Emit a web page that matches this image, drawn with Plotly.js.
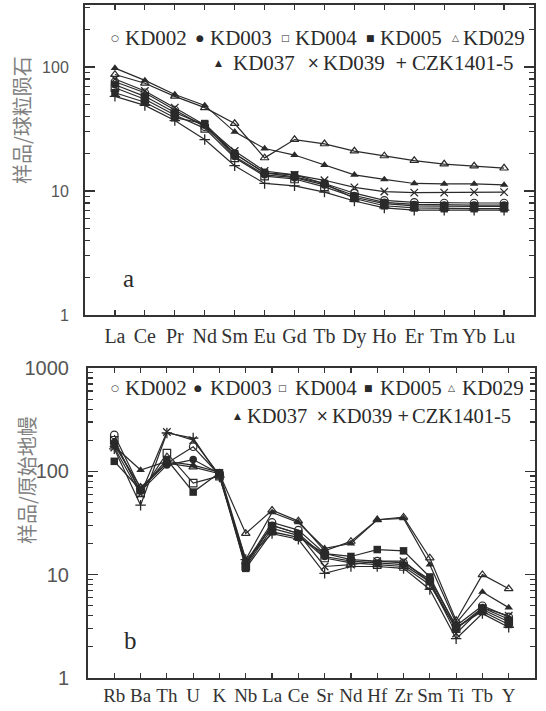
<!DOCTYPE html>
<html><head><meta charset="utf-8">
<script src="https://cdn.plot.ly/plotly-3.0.1.min.js"></script>
<style>html,body{margin:0;padding:0;background:#fff}</style>
</head><body><div id="chart" style="width:546px;height:711px"></div>
<script>
// ---------- DATA ----------
const reeElements = ['La','Ce','Pr','Nd','Sm','Eu','Gd','Tb','Dy','Ho','Er','Tm','Yb','Lu'];
const traceElements = ['Rb','Ba','Th','U','K','Nb','La','Ce','Sr','Nd','Hf','Zr','Sm','Ti','Tb','Y'];
const sampleNames = ['KD002','KD003','KD004','KD005','KD029','KD037','KD039','CZK1401-5'];

// chondrite-normalized REE
const reeKD002 = [76, 62, 45, 33, 20, 14, 13, 11.5, 9.6, 8.4, 8.1, 8.0, 8.0, 8.0];
const reeKD003 = [72, 58, 43, 34, 19, 13.5, 12.8, 11.2, 9.2, 8.1, 7.8, 7.7, 7.7, 7.7];
const reeKD004 = [68, 55, 41, 32, 18.5, 13.2, 12.5, 10.8, 8.9, 7.9, 7.6, 7.5, 7.5, 7.5];
const reeKD005 = [62, 52, 39, 35, 20, 14, 13.5, 11.5, 8.7, 7.6, 7.3, 7.2, 7.2, 7.2];
const reeKD029 = [87, 74, 58, 47, 35, 18.5, 26, 24, 21, 19.2, 17.6, 16.5, 15.9, 15.3];
const reeKD037 = [98, 78, 60, 49, 30, 22, 19.5, 16.2, 13.5, 12.4, 11.5, 11.4, 11.4, 11.2];
const reeKD039 = [80, 64, 47, 34, 21, 14.5, 13.5, 12.2, 10.7, 9.9, 9.7, 9.7, 9.8, 9.8];
const reeCZK = [58, 49, 37, 26, 16, 11.5, 11, 9.8, 8.3, 7.3, 7.0, 7.0, 7.0, 7.0];

// primitive-mantle-normalized trace elements
const trKD002 = [225, 68, 120, 173, 92, 13, 32, 27, 16, 14, 13.5, 13, 9, 3.2, 5.0, 3.9];
const trKD003 = [190, 64, 115, 130, 95, 12.5, 30, 25, 15, 13.5, 13, 12.5, 8.5, 3.0, 4.8, 3.7];
const trKD004 = [200, 62, 150, 77, 90, 12, 28, 24, 14.5, 13, 12.5, 12, 8.0, 3.0, 4.6, 3.5];
const trKD005 = [125, 66, 130, 63, 97, 11.5, 26, 23, 16, 15, 17.5, 17, 9.5, 3.1, 4.4, 3.3];
const trKD029 = [180, 70, 120, 110, 95, 25, 42, 33, 17, 21, 34, 36, 14.5, 3.6, 10, 7.3];
const trKD037 = [175, 103, 125, 115, 98, 14, 40, 32, 18, 20, 34, 35, 12.5, 3.4, 6.8, 4.8];
const trKD039 = [170, 60, 240, 200, 92, 13, 30, 25, 12, 12.5, 13.5, 13.5, 8.5, 2.7, 4.8, 4.0];
const trCZK = [165, 47, 235, 210, 88, 14, 25, 22, 10.3, 12, 12, 11.5, 7.2, 2.4, 4.2, 3.1];

const yTickVals = [1, 10, 100, 1000];
const yTickText = ['1', '10', '100', '1000'];

// ---------- STYLE ----------
const W = 546, H = 711;
const symbols = ['circle-open','circle','square-open','square','triangle-up-open','triangle-up','x-thin-open','cross-thin-open'];
const legendGlyphs = ['\u25CB','\u25CF','\u25A1','\u25A0','\u25B3','\u25B2','\u00D7','+'];
const glyphSizes = [9, 9, 9, 9, 9, 9, 15, 15];
const reeSets = [reeKD002, reeKD003, reeKD004, reeKD005, reeKD029, reeKD037, reeKD039, reeCZK];
const trSets = [trKD002, trKD003, trKD004, trKD005, trKD029, trKD037, trKD039, trCZK];
const ink = '#2a2a2a';
const serif = 'Liberation Serif, Times New Roman, serif';

function mk(i, x, y, xa, ya) {
  const thin = symbols[i].indexOf('thin') >= 0;
  const open = symbols[i].indexOf('open') >= 0;
  return {
    type: 'scatter', mode: 'lines+markers', name: sampleNames[i], showlegend: false,
    x: x, y: y, xaxis: xa, yaxis: ya,
    line: {color: ink, width: 1.2},
    marker: {symbol: symbols[i], size: 7.5, color: ink,
             line: {color: ink, width: thin ? 1.3 : (open ? 1.2 : 0)}}
  };
}
const traces = [];
for (let i = 0; i < sampleNames.length; i++) traces.push(mk(i, reeElements, reeSets[i], 'x', 'y'));
for (let i = 0; i < sampleNames.length; i++) traces.push(mk(i, traceElements, trSets[i], 'x2', 'y2'));

const px = v => v / W, py = v => 1 - v / H;

const ann = [];
function legendRows(rows) {
  rows.forEach(r => {
    r.items.forEach(it => {
      const i = it[0];
      ann.push({xref:'paper', yref:'paper', x: px(it[1]), y: py(r.y), xanchor:'center', yanchor:'middle',
        text: legendGlyphs[i], showarrow:false,
        font:{family:'DejaVu Sans', size: glyphSizes[i], color: ink}});
      ann.push({xref:'paper', yref:'paper', x: px(it[2]), y: py(r.y), xanchor:'left', yanchor:'middle',
        text: sampleNames[i], showarrow:false,
        font:{family: serif, size: r.fs || 21, color: ink}});
    });
  });
}
legendRows([
  {y: 38, items: [[0,115,123],[1,200,208],[2,285,293],[3,370,378],[4,455,461]]},
  {y: 63, items: [[5,218,231],[6,313,321],[7,401,410]]}
]);
legendRows([
  {y: 388, items: [[0,115,123],[1,198,208],[2,282,293],[3,368,378],[4,452,460]]},
  {y: 416, fs: 20.5, items: [[5,237,245],[6,322,330],[7,403,410]]}
]);
// panel letters
ann.push({xref:'paper', yref:'paper', x: px(128), y: py(278), xanchor:'center', yanchor:'middle', text:'a', showarrow:false,
  font:{family: serif, size:25, color:ink}});
ann.push({xref:'paper', yref:'paper', x: px(130), y: py(640), xanchor:'center', yanchor:'middle', text:'b', showarrow:false,
  font:{family: serif, size:25, color:ink}});
// y titles
ann.push({xref:'paper', yref:'paper', x: px(22), y: py(120), xanchor:'center', yanchor:'middle', textangle:-90,
  text:'样品/球粒陨石', showarrow:false, font:{family:'Noto Sans CJK SC', size:20, color:'#808080'}});
ann.push({xref:'paper', yref:'paper', x: px(26), y: py(480), xanchor:'center', yanchor:'middle', textangle:-90,
  text:'样品/原始地幔', showarrow:false, font:{family:'Noto Sans CJK SC', size:20, color:'#808080'}});

const axisLine = {showline:true, linecolor:'#333', linewidth:2, mirror:'ticks', showgrid:false, zeroline:false,
  ticks:'inside', tickcolor:'#333'};

const layout = {
  width: W, height: H, margin:{l:0, r:0, t:0, b:0},
  paper_bgcolor:'#fff', plot_bgcolor:'#fff', showlegend:false,
  xaxis: Object.assign({}, axisLine, {type:'category', categoryorder:'array', categoryarray: reeElements,
    range:[-1, 14], domain:[85/W, 534/W], anchor:'y', ticklen:5, tickwidth:1.2,
    ticklabelstandoff: 2, tickfont:{family: serif, size:20, color:'#333'}}),
  yaxis: Object.assign({}, axisLine, {type:'log', range:[0, 2.5], domain:[1-315/H, 1-5/H], anchor:'x',
    tickvals: yTickVals, ticktext: yTickText, ticklen:10, tickwidth:1.5, ticklabelstandoff: 11,
    tickfont:{family:'Liberation Sans', size:16, color:'#555'},
    minor:{ticks:'inside', ticklen:5, tickwidth:1.2, tickcolor:'#333', dtick:'D1', showgrid:false}}),
  xaxis2: Object.assign({}, axisLine, {type:'category', categoryorder:'array', categoryarray: traceElements,
    range:[-1, 16], domain:[88/W, 535/W], anchor:'y2', ticklen:5, tickwidth:1.2,
    ticklabelstandoff: -1, tickfont:{family: serif, size:19, color:'#333'}}),
  yaxis2: Object.assign({}, axisLine, {type:'log', range:[0, 3], domain:[1-678/H, 1-368/H], anchor:'x2',
    tickvals: yTickVals, ticktext: yTickText, ticklen:10, tickwidth:1.5, ticklabelstandoff: 13,
    tickfont:{family:'Liberation Sans', size:20, color:'#555'},
    minor:{ticks:'inside', ticklen:5, tickwidth:1.2, tickcolor:'#333', dtick:'D1', showgrid:false}}),
  annotations: ann
};

Plotly.newPlot('chart', traces, layout, {displayModeBar:false, staticPlot:true});
</script></body></html>
